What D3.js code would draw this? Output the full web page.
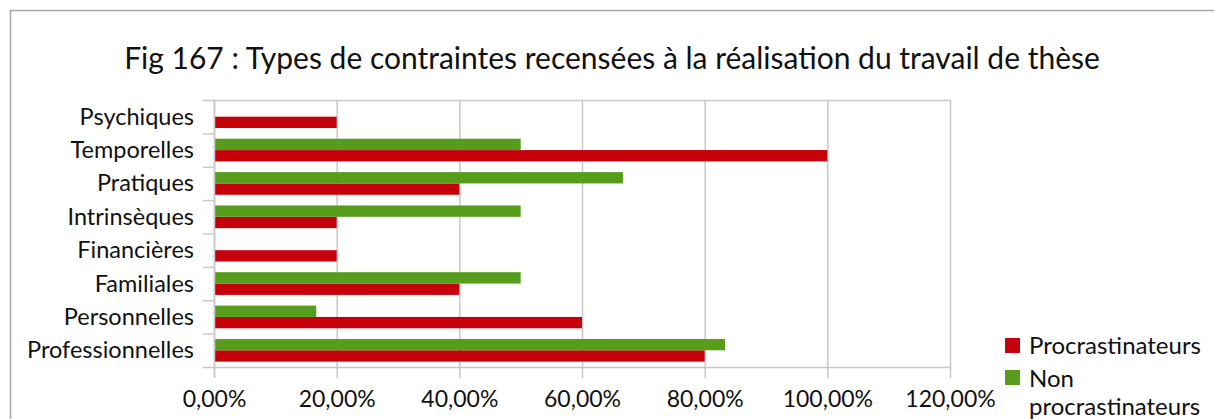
<!DOCTYPE html>
<html>
<head>
<meta charset="utf-8">
<script src="https://cdn.jsdelivr.net/npm/d3@7"></script>
<style>
  html, body { margin: 0; padding: 0; background: #fff; }
  svg { display: block; font-family: Lato, "Open Sans", sans-serif; }
</style>
</head>
<body>
<svg id="chart" width="1214" height="419"></svg>
<script>
// Categories, top to bottom
const categories = ["Psychiques", "Temporelles", "Pratiques", "Intrinsèques",
                    "Financières", "Familiales", "Personnelles", "Professionnelles"];
// Share of respondents citing each constraint
const procrastinateurs    = [0.20, 1.00, 0.40, 0.20, 0.20, 0.40, 0.60, 0.80];
const nonProcrastinateurs = [0.00, 0.50, 0.6667, 0.50, 0.00, 0.50, 0.1667, 0.8333];
const seriesNames = ["Procrastinateurs", "Non procrastinateurs"];
const seriesColors = ["#c5000b", "#579d1c"];
const xTicks = [0, 0.2, 0.4, 0.6, 0.8, 1.0, 1.2];
const title = "Fig 167 : Types de contraintes recensées à la réalisation du travail de thèse";

const svg = d3.select("#chart");
const fr = d3.formatLocale({ decimal: ",", thousands: " ", grouping: [3], currency: ["", " €"] });
const pct = fr.format(".2%");

const plot = { left: 214, right: 950, top: 100, bottom: 367 };

// Outer chart frame
svg.append("path")
  .attr("d", `M10.5,419 V10.5 H1214`)
  .attr("fill", "none").attr("stroke", "#a6a6a6").attr("stroke-width", 1.5);

// Title
svg.append("text")
  .attr("x", 612).attr("y", 69)
  .attr("text-anchor", "middle")
  .attr("font-size", 30).attr("fill", "#111")
  .text(title);

const x = d3.scaleLinear().domain([0, 1.2]).range([plot.left, plot.right]);
const y = d3.scaleBand().domain(categories).range([plot.top, plot.bottom]).padding(0);
// Green bar above red inside each category
const ySub = d3.scaleBand().domain([1, 0]).range([0, y.bandwidth()]).paddingInner(0).paddingOuter(0.47);

// Vertical gridlines
svg.append("g").selectAll("line").data(xTicks).join("line")
  .attr("x1", d => x(d) + 0.5).attr("x2", d => x(d) + 0.5)
  .attr("y1", plot.top).attr("y2", plot.bottom)
  .attr("stroke", "#c8c8c8").attr("stroke-width", 1.5);

// Plot-area top edge
svg.append("line")
  .attr("x1", plot.left).attr("x2", plot.right + 1)
  .attr("y1", plot.top + 0.5).attr("y2", plot.top + 0.5)
  .attr("stroke", "#c8c8c8").attr("stroke-width", 1.5);

// Bars
const rows = categories.map((c, i) => ({ cat: c, vals: [procrastinateurs[i], nonProcrastinateurs[i]] }));
const g = svg.append("g").selectAll("g").data(rows).join("g")
  .attr("transform", d => `translate(0,${y(d.cat)})`);
g.selectAll("rect").data(d => d.vals.map((v, s) => ({ v, s }))).join("rect")
  .attr("x", x(0))
  .attr("y", d => ySub(d.s))
  .attr("width", d => x(d.v) - x(0))
  .attr("height", ySub.bandwidth())
  .attr("fill", d => seriesColors[d.s]);

// X axis
const xAxis = svg.append("g")
  .attr("transform", `translate(0,${plot.bottom})`)
  .call(d3.axisBottom(x).tickValues(xTicks).tickFormat(pct).tickSize(11).tickSizeOuter(0));
xAxis.select(".domain").attr("stroke", "#c8c8c8").attr("stroke-width", 1.5);
xAxis.selectAll(".tick line").attr("stroke", "#c8c8c8").attr("stroke-width", 1.5);
xAxis.selectAll(".tick text").attr("font-family", "Lato, sans-serif")
  .attr("font-size", 23).attr("fill", "#111").attr("y", 29).attr("dy", 0)
  .attr("dominant-baseline", "auto").attr("transform", "translate(0,11)");

// Y axis: ticks on category boundaries
const yAxis = svg.append("g").attr("transform", `translate(${plot.left},0)`);
yAxis.append("line")
  .attr("x1", 0.5).attr("x2", 0.5).attr("y1", plot.top).attr("y2", plot.bottom + 11)
  .attr("stroke", "#c8c8c8").attr("stroke-width", 1.5);
const bounds = categories.map(c => y(c)).concat([plot.bottom]);
yAxis.selectAll("line.tk").data(bounds).join("line").attr("class", "tk")
  .attr("x1", -11).attr("x2", 0)
  .attr("y1", d => d + 0.5).attr("y2", d => d + 0.5)
  .attr("stroke", "#c8c8c8").attr("stroke-width", 1.5);
yAxis.selectAll("text").data(categories).join("text")
  .attr("x", -20).attr("y", d => y(d) + y.bandwidth() / 2 + 8)
  .attr("text-anchor", "end").attr("font-size", 23.5).attr("fill", "#111")
  .text(d => d);

// Legend
const legend = svg.append("g").attr("transform", "translate(1005,338)");
legend.append("rect").attr("x", 0).attr("y", 0).attr("width", 15).attr("height", 15).attr("fill", seriesColors[0]);
legend.append("text").attr("x", 24).attr("y", 16).attr("font-size", 24).attr("fill", "#111").text(seriesNames[0]);
legend.append("rect").attr("x", 0).attr("y", 32).attr("width", 15).attr("height", 15).attr("fill", seriesColors[1]);
const t2 = legend.append("text").attr("font-size", 24).attr("fill", "#111");
t2.append("tspan").attr("x", 24).attr("y", 49).text("Non");
t2.append("tspan").attr("x", 24).attr("y", 77).text("procrastinateurs");
</script>
</body>
</html>
